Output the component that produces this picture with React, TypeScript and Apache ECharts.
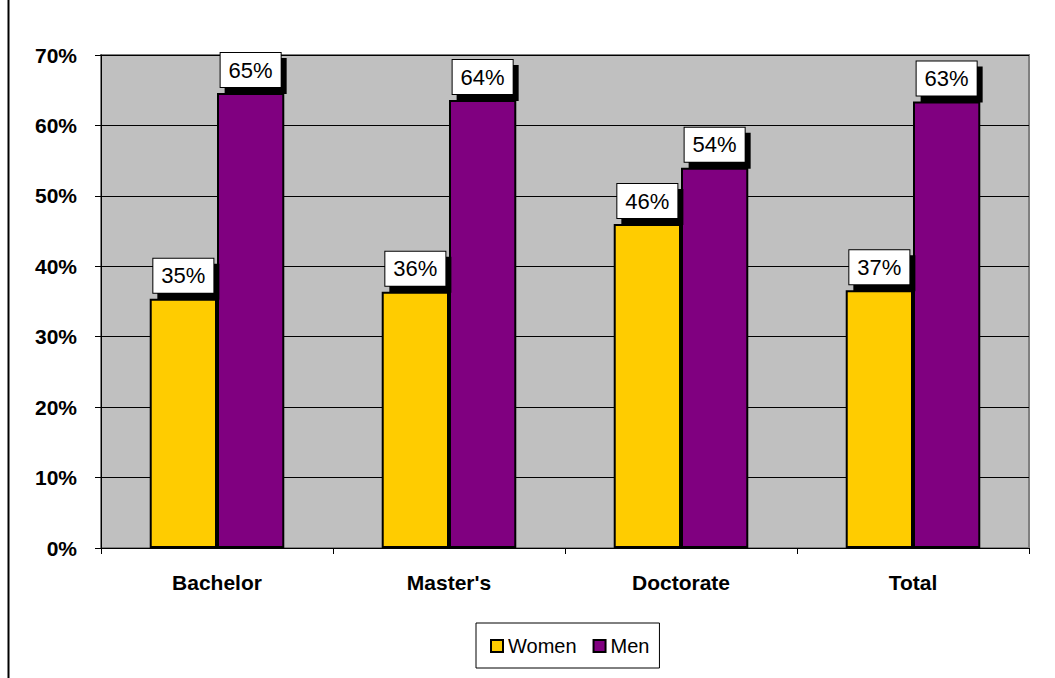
import React, { useEffect, useRef } from "react";
import * as echarts from "echarts";

const categories = ["Bachelor", "Master's", "Doctorate", "Total"];
const womenValues = [35.4, 36.4, 46.0, 36.6];
const menValues = [64.6, 63.6, 54.0, 63.4];
const seriesNames = ["Women", "Men"];
const yTicks = { min: 0, max: 70, interval: 10 };

const FONT = "'Liberation Sans', Arial, sans-serif";

export default function App() {
  const ref = useRef<HTMLDivElement>(null);
  useEffect(() => {
    if (!ref.current) return;
    const chart = echarts.init(ref.current, null, { renderer: "svg" });
    const labelStyle = {
      show: true,
      position: "top",
      distance: 6,
      formatter: (p: any) => Math.round(p.value) + "%",
      color: "#000",
      fontFamily: FONT,
      fontSize: 22,
      lineHeight: 22,
      backgroundColor: "#fff",
      borderColor: "#000",
      borderWidth: 1,
      padding: [6, 8, 6, 8],
      shadowColor: "#000",
      shadowBlur: 0,
      shadowOffsetX: 5,
      shadowOffsetY: 6,
    };
    chart.setOption({
      animation: false,
      backgroundColor: "#fff",
      textStyle: { fontFamily: FONT },
      grid: {
        left: 101,
        right: 26,
        top: 55,
        bottom: 130,
        show: true,
        backgroundColor: "#c0c0c0",
        borderColor: "#808080",
        borderWidth: 2,
        containLabel: false,
      },
      legend: {
        data: seriesNames,
        bottom: 10,
        left: 476,
        icon: "rect",
        itemWidth: 12,
        itemHeight: 12,
        itemGap: 16,
        backgroundColor: "#fff",
        borderColor: "#000",
        borderWidth: 1,
        padding: [13, 10, 12, 14],
        textStyle: { fontFamily: FONT, fontSize: 20, color: "#000" },
        itemStyle: { borderColor: "#000", borderWidth: 2 },
      },
      xAxis: {
        type: "category",
        data: categories,
        axisLine: { show: true, lineStyle: { color: "#000", width: 1 } },
        axisTick: { show: true, length: 6, lineStyle: { color: "#000" } },
        axisLabel: {
          fontFamily: FONT,
          fontSize: 21,
          fontWeight: "bold",
          color: "#000",
          margin: 24,
        },
      },
      yAxis: {
        type: "value",
        min: yTicks.min,
        max: yTicks.max,
        interval: yTicks.interval,
        axisLine: { show: true, lineStyle: { color: "#000", width: 1 } },
        axisTick: { show: true, length: 6, lineStyle: { color: "#000" } },
        splitLine: { show: true, lineStyle: { color: "#000", width: 1 } },
        axisLabel: {
          formatter: "{value}%",
          fontFamily: FONT,
          fontSize: 21,
          fontWeight: "bold",
          color: "#000",
          margin: 24,
        },
      },
      series: [
        {
          name: seriesNames[0],
          type: "bar",
          data: womenValues,
          barGap: "0%",
          barCategoryGap: "42%",
          itemStyle: { color: "#ffcc00", borderColor: "#000", borderWidth: 2 },
          label: labelStyle,
        },
        {
          name: seriesNames[1],
          type: "bar",
          data: menValues,
          barGap: "0%",
          barCategoryGap: "42%",
          itemStyle: { color: "#800080", borderColor: "#000", borderWidth: 2 },
          label: labelStyle,
        },
      ],
      graphic: [
        {
          type: "line",
          shape: { x1: 8.5, y1: 0, x2: 8.5, y2: 678 },
          style: { stroke: "#000", lineWidth: 2 },
          silent: true,
        },
      ],
    });
    return () => chart.dispose();
  }, []);
  return <div ref={ref} style={{ width: 1055, height: 678, position: "absolute", left: 0, top: 0 }} />;
}
